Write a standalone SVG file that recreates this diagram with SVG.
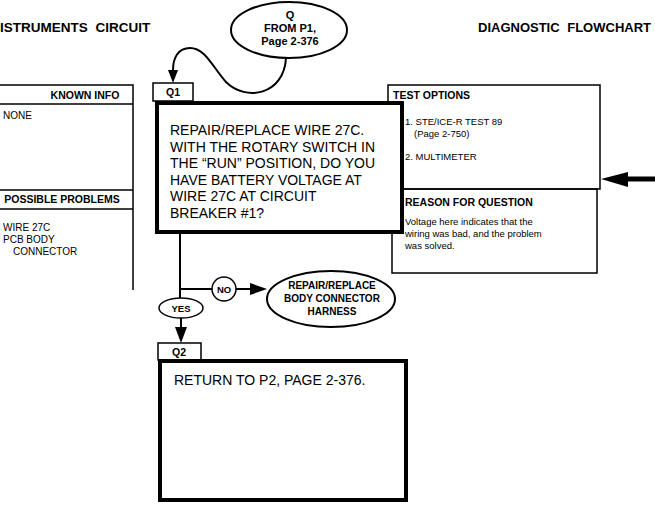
<svg xmlns="http://www.w3.org/2000/svg" width="655" height="509" viewBox="0 0 655 509">
<style>
text{font-family:"Liberation Sans",Arial,Helvetica,sans-serif;fill:#000}
.b{font-weight:bold}
.ttl{font-size:13.5px;font-weight:bold;word-spacing:4px}
.hd{font-size:10.5px;font-weight:bold}
.sm{font-size:10px}
.xs{font-size:9.5px}
.big{font-size:14px}
.thin{fill:none;stroke:#000;stroke-width:1.5}
.thick{fill:#fff;stroke:#000;stroke-width:4}
.ln{fill:none;stroke:#000;stroke-width:2}
</style>
<rect width="655" height="509" fill="#fff"/>
<text class="ttl" x="0" y="32">ISTRUMENTS  CIRCUIT</text>
<text class="ttl" x="478" y="32" style="font-size:13px">DIAGNOSTIC  FLOWCHART</text>

<g id="known-info">
<path class="thin" d="M-2,85 H133 V290 M-2,104 H133 M-2,190 H133 M-2,209 H133"/>
<text class="hd" x="85" y="99" text-anchor="middle">KNOWN INFO</text>
<text class="sm" x="3" y="119">NONE</text>
<text class="hd" x="62" y="203" text-anchor="middle">POSSIBLE PROBLEMS</text>
<text class="sm" x="3" y="231">WIRE 27C</text>
<text class="sm" x="3" y="243">PCB BODY</text>
<text class="sm" x="13" y="255">CONNECTOR</text>
</g>

<g id="test-options">
<rect class="thin" x="388" y="85" width="212" height="104" fill="#fff"/>
<rect class="thin" x="392" y="189" width="205" height="84" fill="#fff"/>
<text class="hd" x="393" y="99">TEST OPTIONS</text>
<text class="xs" x="405" y="125">1. STE/ICE-R TEST 89</text>
<text class="xs" x="414" y="137">(Page 2-750)</text>
<text class="xs" x="405" y="160">2. MULTIMETER</text>
<text class="hd" x="405" y="206">REASON FOR QUESTION</text>
<text class="xs" x="405" y="225">Voltage here indicates that the</text>
<text class="xs" x="405" y="237">wiring was bad, and the problem</text>
<text class="xs" x="405" y="249">was solved.</text>
</g>

<g id="q-start">
<ellipse class="ln" cx="289" cy="30" rx="58" ry="28" fill="#fff"/>
<text class="b" font-size="11" x="290" y="19" text-anchor="middle">Q</text>
<text class="b" font-size="11" x="290" y="32" text-anchor="middle">FROM P1,</text>
<text class="b" font-size="11" x="290" y="45" text-anchor="middle">Page 2-376</text>
</g>

<g id="q1">
<rect class="thin" x="153" y="83" width="40" height="18" fill="#fff"/>
<text class="hd" x="173" y="96" text-anchor="middle">Q1</text>
<rect class="thick" x="157" y="103" width="245" height="129"/>
<text class="big" x="170" y="135">REPAIR/REPLACE WIRE 27C.</text>
<text class="big" x="170" y="151.5">WITH THE ROTARY SWITCH IN</text>
<text class="big" x="170" y="168">THE “RUN” POSITION, DO YOU</text>
<text class="big" x="170" y="184.5">HAVE BATTERY VOLTAGE AT</text>
<text class="big" x="170" y="201">WIRE 27C AT CIRCUIT</text>
<text class="big" x="170" y="217.5">BREAKER #1?</text>
</g>

<g id="no-label">
<circle cx="224" cy="289" r="12" fill="#fff" stroke="#000" stroke-width="1.5"/>
<text class="b" font-size="9.5" x="224" y="293" text-anchor="middle">NO</text>
</g>

<g id="yes-label">
<ellipse cx="181" cy="308" rx="22" ry="10" fill="#fff" stroke="#000" stroke-width="1.5"/>
<text class="b" font-size="9.5" x="181" y="312" text-anchor="middle">YES</text>
</g>

<g id="repair-harness">
<ellipse class="ln" cx="331" cy="299" rx="64" ry="28" fill="#fff"/>
<text class="b" font-size="10" x="332" y="289" text-anchor="middle">REPAIR/REPLACE</text>
<text class="b" font-size="10" x="332" y="302" text-anchor="middle">BODY CONNECTOR</text>
<text class="b" font-size="10" x="332" y="315" text-anchor="middle">HARNESS</text>
</g>

<g id="q2">
<rect class="thin" x="158" y="343" width="43" height="17" fill="#fff"/>
<text class="hd" x="179" y="356" text-anchor="middle">Q2</text>
<rect class="thick" x="160" y="361" width="246" height="139"/>
<text class="big" x="174" y="385">RETURN TO P2, PAGE 2-376.</text>
</g>

<g id="connectors">
<path class="ln" d="M286,58 C284,95 246,102 226,82 C212,66 205,48 190,48 C178,48 173,58 173,70" />
<path d="M168,70 L178,70 L173,83 Z" fill="#000"/>
<path class="ln" d="M180,234 V298"/>
<path class="ln" d="M180,289 H212"/>
<path class="ln" d="M236,289 H252"/>
<path d="M250,283 L267,289 L250,295 Z" fill="#000"/>
<path class="ln" d="M181,318 V328"/>
<path d="M175,327 L187,327 L181,343 Z" fill="#000"/>
<path d="M655,179 H626" stroke="#000" stroke-width="5"/>
<path d="M628,172 L601,179 L628,187 Z" fill="#000"/>
</g>
</svg>
